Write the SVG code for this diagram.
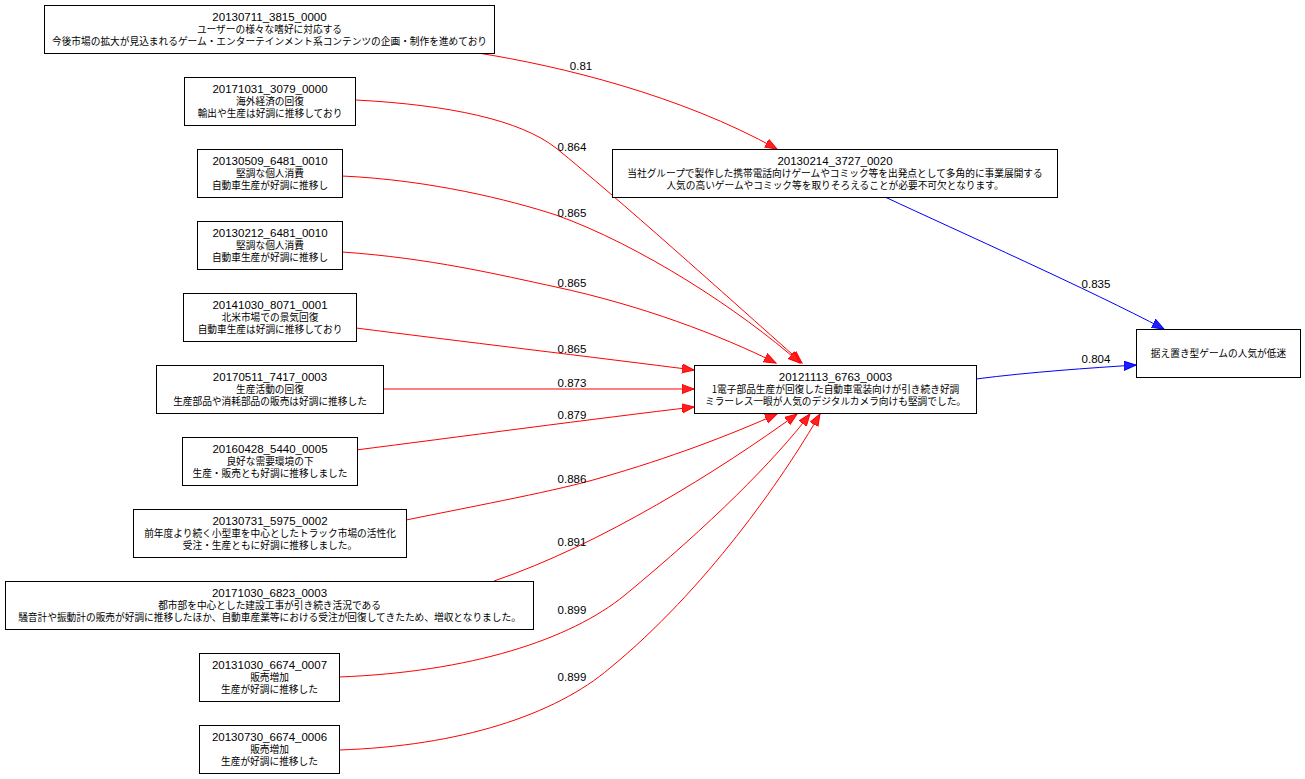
<svg xmlns="http://www.w3.org/2000/svg" width="1305" height="779" viewBox="0 0 1305 779">
<style>
.box{fill:#fff;stroke:#000;stroke-width:1}
.id{font-family:"Liberation Sans","Noto Sans CJK JP",sans-serif;font-size:11.5px;fill:#000;text-anchor:middle}
.jp{font-family:"Noto Sans CJK JP","Liberation Sans",sans-serif;font-size:9.7px;fill:#000;text-anchor:middle}
.lbl{font-family:"Liberation Sans",sans-serif;font-size:11.5px;fill:#000;text-anchor:middle}
.r{fill:none;stroke:#ff0000;stroke-width:1;marker-end:url(#ar)}
.b{fill:none;stroke:#0000ff;stroke-width:1;marker-end:url(#ab)}
</style>
<defs>
<marker id="ar" markerUnits="userSpaceOnUse" markerWidth="14" markerHeight="11" refX="12" refY="5" orient="auto"><path d="M0,0.5 L12,5 L0,9.5 z" fill="#ff2020" stroke="#ff0000" stroke-width="1"/></marker>
<marker id="ab" markerUnits="userSpaceOnUse" markerWidth="14" markerHeight="11" refX="12" refY="5" orient="auto"><path d="M0,0.5 L12,5 L0,9.5 z" fill="#2020ff" stroke="#0000ff" stroke-width="1"/></marker>
</defs>
<rect width="1305" height="779" fill="#fff"/>
<g id="edges">
<path class="r" d="M478,53 C560,66 680,95 777,149"/>
<path class="r" d="M356,100 C450,105 520,120 556,148 C620,200 720,290 802,363"/>
<path class="r" d="M342,176 C430,180 510,200 556,215 C640,245 740,310 800,363"/>
<path class="r" d="M342,252 C430,258 500,275 556,287 C640,305 720,335 776,363"/>
<path class="r" d="M356,328 C450,340 600,358 694,370"/>
<path class="r" d="M383,389 L694,389"/>
<path class="r" d="M356,450 C450,438 600,418 694,407"/>
<path class="r" d="M406,520 C480,505 560,490 600,478 C670,458 730,435 777,414"/>
<path class="r" d="M494,581 C600,545 720,470 797,414"/>
<path class="r" d="M339,677 C470,672 570,640 625,595 C710,525 775,460 810,414"/>
<path class="r" d="M339,750 C460,746 555,715 610,668 C705,590 782,480 820,414"/>
<path class="b" d="M885,197 C960,232 1090,290 1164,329"/>
<path class="b" d="M976,379 C1030,372 1090,368 1136,365"/>
<text class="lbl" x="581" y="70">0.81</text>
<text class="lbl" x="572" y="151">0.864</text>
<text class="lbl" x="572" y="217">0.865</text>
<text class="lbl" x="572" y="287">0.865</text>
<text class="lbl" x="572" y="353">0.865</text>
<text class="lbl" x="572" y="387">0.873</text>
<text class="lbl" x="572" y="419">0.879</text>
<text class="lbl" x="572" y="483">0.886</text>
<text class="lbl" x="572" y="546">0.891</text>
<text class="lbl" x="572" y="614">0.899</text>
<text class="lbl" x="572" y="681">0.899</text>
<text class="lbl" x="1096" y="288">0.835</text>
<text class="lbl" x="1096" y="363">0.804</text>
</g>
<g id="n1"><rect class="box" x="44.5" y="5.5" width="450" height="48"/><text class="id" x="269.5" y="21">20130711_3815_0000</text><text class="jp" x="269.5" y="33">ユーザーの様々な嗜好に対応する</text><text class="jp" x="269.5" y="45">今後市場の拡大が見込まれるゲーム・エンターテインメント系コンテンツの企画・制作を進めており</text></g>
<g id="n2"><rect class="box" x="184.5" y="77.5" width="171" height="48"/><text class="id" x="270" y="93">20171031_3079_0000</text><text class="jp" x="270" y="105">海外経済の回復</text><text class="jp" x="270" y="117">輸出や生産は好調に推移しており</text></g>
<g id="n3"><rect class="box" x="197.5" y="149.5" width="145" height="48"/><text class="id" x="270" y="165">20130509_6481_0010</text><text class="jp" x="270" y="177">堅調な個人消費</text><text class="jp" x="270" y="189">自動車生産が好調に推移し</text></g>
<g id="n4"><rect class="box" x="197.5" y="221.5" width="145" height="48"/><text class="id" x="270" y="237">20130212_6481_0010</text><text class="jp" x="270" y="249">堅調な個人消費</text><text class="jp" x="270" y="261">自動車生産が好調に推移し</text></g>
<g id="n5"><rect class="box" x="183.5" y="293.5" width="173" height="48"/><text class="id" x="270" y="309">20141030_8071_0001</text><text class="jp" x="270" y="321">北米市場での景気回復</text><text class="jp" x="270" y="333">自動車生産は好調に推移しており</text></g>
<g id="n6"><rect class="box" x="156.5" y="365.5" width="227" height="48"/><text class="id" x="270" y="381">20170511_7417_0003</text><text class="jp" x="270" y="393">生産活動の回復</text><text class="jp" x="270" y="405">生産部品や消耗部品の販売は好調に推移した</text></g>
<g id="n7"><rect class="box" x="182.5" y="437.5" width="175" height="48"/><text class="id" x="270" y="453">20160428_5440_0005</text><text class="jp" x="270" y="465">良好な需要環境の下</text><text class="jp" x="270" y="477">生産・販売とも好調に推移しました</text></g>
<g id="n8"><rect class="box" x="133.5" y="509.5" width="273" height="48"/><text class="id" x="270" y="525">20130731_5975_0002</text><text class="jp" x="270" y="537">前年度より続く小型車を中心としたトラック市場の活性化</text><text class="jp" x="270" y="549">受注・生産ともに好調に推移しました。</text></g>
<g id="n9"><rect class="box" x="5.5" y="581.5" width="528" height="48"/><text class="id" x="269.5" y="597">20171030_6823_0003</text><text class="jp" x="269.5" y="609">都市部を中心とした建設工事が引き続き活況である</text><text class="jp" x="269.5" y="621">騒音計や振動計の販売が好調に推移したほか、自動車産業等における受注が回復してきたため、増収となりました。</text></g>
<g id="n10"><rect class="box" x="199.5" y="653.5" width="140" height="48"/><text class="id" x="269.5" y="669">20131030_6674_0007</text><text class="jp" x="269.5" y="681">販売増加</text><text class="jp" x="269.5" y="693">生産が好調に推移した</text></g>
<g id="n11"><rect class="box" x="199.5" y="725.5" width="140" height="48"/><text class="id" x="269.5" y="741">20130730_6674_0006</text><text class="jp" x="269.5" y="753">販売増加</text><text class="jp" x="269.5" y="765">生産が好調に推移した</text></g>
<g id="m1"><rect class="box" x="612.5" y="149.5" width="445" height="48"/><text class="id" x="835" y="165">20130214_3727_0020</text><text class="jp" x="835" y="177">当社グループで製作した携帯電話向けゲームやコミック等を出発点として多角的に事業展開する</text><text class="jp" x="835" y="189">人気の高いゲームやコミック等を取りそろえることが必要不可欠となります。</text></g>
<g id="c"><rect class="box" x="694.5" y="365.5" width="282" height="48"/><text class="id" x="835.5" y="381">20121113_6763_0003</text><text class="jp" x="835.5" y="393">1電子部品生産が回復した自動車電装向けが引き続き好調</text><text class="jp" x="835.5" y="405">ミラーレス一眼が人気のデジタルカメラ向けも堅調でした。</text></g>
<g id="r"><rect class="box" x="1136.5" y="329.5" width="164" height="48"/><text class="jp" x="1218.5" y="357">据え置き型ゲームの人気が低迷</text></g>
</svg>
